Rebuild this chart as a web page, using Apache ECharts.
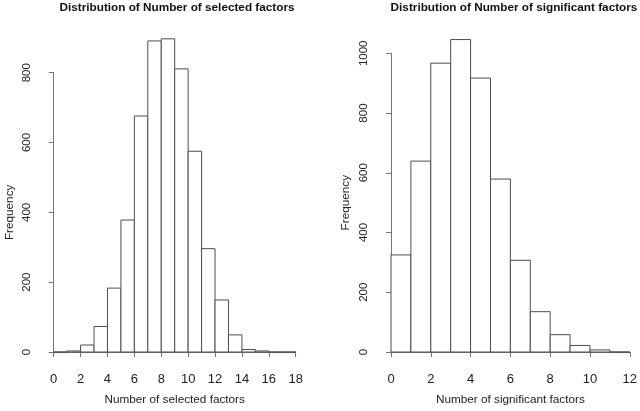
<!DOCTYPE html>
<html>
<head>
<meta charset="utf-8">
<script src="https://cdn.jsdelivr.net/npm/echarts@6/dist/echarts.min.js"></script>
<style>
html,body{margin:0;padding:0;background:#fff;}
#chart{width:640px;height:411px;}
</style>
</head>
<body>
<div id="chart"></div>
<script>
// Histogram 1: Number of selected factors (bins of width 1 from 0 to 18)
var selectedBreaks = [0,1,2,3,4,5,6,7,8,9,10,11,12,13,14,15,16,17,18];
var selectedCounts = [0,3,20,73,183,378,676,891,897,811,575,296,149,49,7,3,0,0];
var selectedTicks = [0,2,4,6,8,10,12,14,16,18];
var selectedYTicks = [0,200,400,600,800];

// Histogram 2: Number of significant factors (bins of width 1 from 0 to 12)
var significantBreaks = [0,1,2,3,4,5,6,7,8,9,10,11,12];
var significantCounts = [325,639,967,1046,917,579,307,135,58,22,7,0];
var significantTicks = [0,2,4,6,8,10,12];
var significantYTicks = [0,200,400,600,800,1000];

var titles = ['Distribution of Number of selected factors', 'Distribution of Number of significant factors'];
var xNames = ['Number of selected factors', 'Number of significant factors'];
var yName = 'Frequency';

function binData(breaks, counts) {
  var out = [];
  for (var i = 0; i < counts.length; i++) out.push([breaks[i], breaks[i+1], counts[i]]);
  return out;
}

function renderBar(params, api) {
  var p0 = api.coord([api.value(0), api.value(2)]);
  var p1 = api.coord([api.value(1), 0]);
  return {
    type: 'rect',
    shape: {x: p0[0], y: p0[1], width: p1[0] - p0[0], height: p1[1] - p0[1]},
    style: {fill: '#ffffff', stroke: '#4d4d4d', lineWidth: 1}
  };
}

var FONT = 'Liberation Sans, Arial, sans-serif';
var axisColor = '#777777';
var labelColor = '#222222';
function plain(v) { return String(v); }

function xAxisCfg(gridIndex, ticks, name) {
  return {
    type: 'value', gridIndex: gridIndex,
    min: ticks[0], max: ticks[ticks.length-1], interval: ticks[1]-ticks[0],
    position: 'bottom', offset: 12,
    splitLine: {show: false},
    axisLine: {show: true, lineStyle: {color: axisColor, width: 1}},
    axisTick: {show: true, length: 5, lineStyle: {color: axisColor}},
    axisLabel: {fontFamily: FONT, fontSize: 13, color: labelColor, margin: 9, showMinLabel: true, showMaxLabel: true, formatter: plain},
    name: name, nameLocation: 'middle', nameGap: 30,
    nameTextStyle: {fontFamily: FONT, fontSize: 11.75, color: labelColor}
  };
}
function yAxisCfg(gridIndex, ticks, offset) {
  return {
    type: 'value', gridIndex: gridIndex,
    min: ticks[0], max: ticks[ticks.length-1], interval: ticks[1]-ticks[0],
    position: 'left', offset: offset,
    splitLine: {show: false},
    axisLine: {show: true, lineStyle: {color: axisColor, width: 1}},
    axisTick: {show: true, length: 5, lineStyle: {color: axisColor}},
    axisLabel: {fontFamily: FONT, fontSize: 11.5, color: labelColor, margin: 10, rotate: 90, formatter: plain},
    name: yName, nameLocation: 'middle', nameGap: 28, nameRotate: 90,
    nameTextStyle: {fontFamily: FONT, fontSize: 11.75, color: labelColor}
  };
}

var chart = echarts.init(document.getElementById('chart'), null, {renderer: 'canvas'});
chart.setOption({
  backgroundColor: '#ffffff',
  animation: false,
  title: [
    {text: titles[0], left: 172, top: -3, textAlign: 'center',
     textStyle: {fontFamily: FONT, fontSize: 11.75, fontWeight: 'bold', color: '#111'}},
    {text: titles[1], left: 509, top: -3, textAlign: 'center',
     textStyle: {fontFamily: FONT, fontSize: 11.75, fontWeight: 'bold', color: '#111'}}
  ],
  grid: [
    {left: 53.7, right: 344.3, top: 72.7, bottom: 56.3, containLabel: false},
    {left: 391, right: 6.3, top: 53.3, bottom: 56.3, containLabel: false}
  ],
  xAxis: [xAxisCfg(0, selectedTicks, xNames[0]), xAxisCfg(1, significantTicks, xNames[1])],
  yAxis: [yAxisCfg(0, selectedYTicks, 10.4), yAxisCfg(1, significantYTicks, 11)],
  series: [
    {type: 'custom', xAxisIndex: 0, yAxisIndex: 0, clip: false, renderItem: renderBar,
     data: binData(selectedBreaks, selectedCounts)},
    {type: 'custom', xAxisIndex: 1, yAxisIndex: 1, clip: false, renderItem: renderBar,
     data: binData(significantBreaks, significantCounts)}
  ]
});
</script>
</body>
</html>
